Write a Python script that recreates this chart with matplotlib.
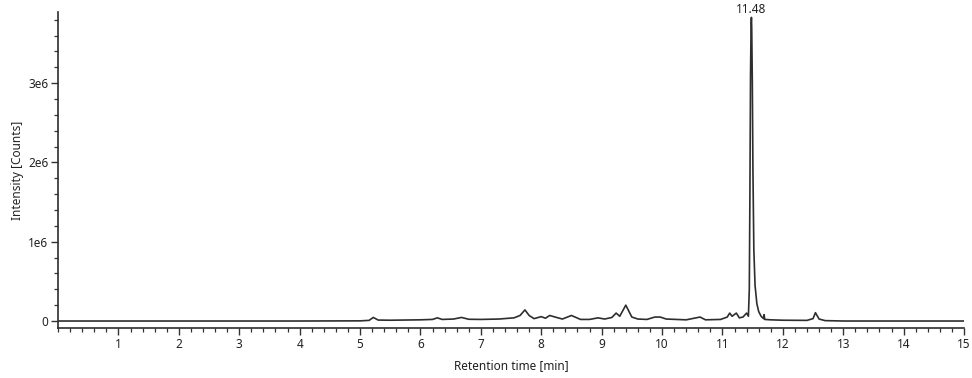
import matplotlib
matplotlib.use("Agg")
import matplotlib.pyplot as plt
from matplotlib.ticker import MultipleLocator, FixedLocator
import numpy as np

plt.rcParams['font.family'] = ['Noto Sans', 'DejaVu Sans']

# trace (retention time [min], intensity [counts])
rt = [0.0, 1.0, 2.0, 3.0, 4.0, 5.0, 5.15, 5.22, 5.3, 5.5, 6.0, 6.2, 6.28, 6.36, 6.55,
      6.68, 6.8, 7.0, 7.3, 7.55, 7.65, 7.73, 7.8, 7.88, 8.0, 8.07, 8.14, 8.23, 8.35,
      8.5, 8.65, 8.8, 8.94, 9.05, 9.17, 9.24, 9.3, 9.4, 9.5, 9.6, 9.75, 9.88, 9.97,
      10.07, 10.4, 10.63, 10.72, 10.97, 11.08, 11.12, 11.16, 11.23, 11.28, 11.34, 11.4,
      11.43, 11.445, 11.455, 11.465, 11.475, 11.48, 11.485, 11.495, 11.505, 11.52,
      11.54, 11.57, 11.6, 11.64, 11.68, 11.69, 11.7, 11.8, 12.0, 12.4, 12.5, 12.54,
      12.6, 12.7, 13.0, 14.0, 15.0]
intensity = [0, 0, 0, 0, 0, 2e3, 8e3, 4.5e4, 1.2e4, 1e4, 1.5e4, 2e4, 4e4, 2e4, 2.5e4,
             4.5e4, 2.2e4, 2e4, 2.5e4, 4e4, 7e4, 1.4e5, 7e4, 3e4, 5.5e4, 3.5e4, 7e4,
             5e4, 2.5e4, 7e4, 2e4, 2e4, 4e4, 2.5e4, 4.5e4, 1.0e5, 6e4, 2.0e5, 5e4,
             2.5e4, 2e4, 5e4, 5e4, 2.5e4, 1.5e4, 5e4, 1.5e4, 2e4, 5e4, 1.0e5, 6e4,
             1.0e5, 4e4, 5e4, 1.0e5, 6e4, 4e5, 1.6e6, 3.1e6, 3.75e6, 3.83e6, 3.7e6,
             3.0e6, 1.9e6, 9e5, 4.5e5, 2.2e5, 1.2e5, 6e4, 3e4, 8e4, 2e4, 1.5e4, 1e4,
             8e3, 3e4, 1.05e5, 2.5e4, 5e3, 0, 0, 0]
peak_rt = 11.48
peak_label = "11.48"

fig = plt.figure(figsize=(9.72, 3.78), dpi=100)
ax = fig.add_axes([0.0597, 0.1323, 0.9321, 0.8357])

ax.plot(rt, intensity, color="#2e2e2e", lw=1.2)
ax.annotate(peak_label, xy=(peak_rt, max(intensity)), xytext=(0, 1),
            textcoords="offset points", ha="center", va="bottom",
            fontsize=8.5, color="#222222", annotation_clip=False)

ax.set_xlim(0, 15)
ax.set_ylim(-0.088e6, 3.897e6)

ax.spines['top'].set_visible(False)
ax.spines['right'].set_visible(False)
for s in ['left', 'bottom']:
    ax.spines[s].set_color("#2e2e2e")
    ax.spines[s].set_linewidth(1.2)

ax.xaxis.set_major_locator(FixedLocator(range(1, 16)))
ax.xaxis.set_minor_locator(MultipleLocator(0.2))
ax.yaxis.set_major_locator(FixedLocator([0, 1e6, 2e6, 3e6]))
ax.yaxis.set_minor_locator(MultipleLocator(2e5))
ax.set_yticklabels(["0", "1e6", "2e6", "3e6"])

ax.tick_params(axis='both', which='major', labelsize=8.5, length=5, width=1,
               color="#333333", labelcolor="#222222", pad=2)
ax.tick_params(axis='both', which='minor', length=3, width=0.9, color="#333333")

ax.set_xlabel("Retention time [min]", fontsize=8.5, color="#222222", labelpad=6)
ax.set_ylabel("Intensity [Counts]", fontsize=8.5, color="#222222", labelpad=3)

fig.savefig("out.png", dpi=100)
